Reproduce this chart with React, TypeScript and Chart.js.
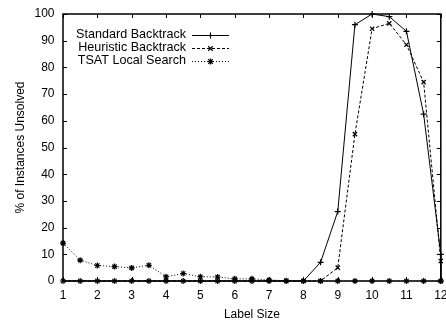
import React, { useEffect, useRef } from 'react';
import { Chart, registerables } from 'chart.js';

Chart.register(...registerables);

const labelSizes = [1, 1.5, 2, 2.5, 3, 3.5, 4, 4.5, 5, 5.5, 6, 6.5, 7, 7.5, 8, 8.5, 9, 9.5, 10, 10.5, 11, 11.5, 12];
const standardBacktrack = [0, 0, 0, 0, 0, 0, 0, 0, 0, 0, 0, 0, 0, 0, 0, 7, 26, 96, 100, 99, 93.5, 62.5, 10];
const heuristicBacktrack = [0, 0, 0, 0, 0, 0, 0, 0, 0, 0, 0, 0, 0, 0, 0, 0, 5, 55, 94.5, 96.5, 88.5, 74.5, 7.5];
const tsatLocalSearch = [14.2, 7.8, 5.8, 5.4, 4.9, 5.9, 1.6, 2.8, 1.6, 1.5, 0.8, 0.8, 0.4, 0.1, 0, 0, 0, 0, 0, 0, 0, 0, 0];
// final drop of the backtrack curves at label size 12
const finalDrop = { x: 12, y: 0 };

const seriesNames = ['Standard Backtrack', 'Heuristic Backtrack', 'TSAT Local Search'];
const xTicks = [1, 2, 3, 4, 5, 6, 7, 8, 9, 10, 11, 12];
const yTicks = [0, 10, 20, 30, 40, 50, 60, 70, 80, 90, 100];

const FONT = '"Liberation Sans", Arial, Helvetica, sans-serif';

const styles = [
  { dash: [] as number[], pointStyle: 'cross', radius: 3 },
  { dash: [3, 2], pointStyle: 'crossRot', radius: 3 },
  { dash: [1, 2], pointStyle: 'star', radius: 3 },
];

function drawMarker(ctx: CanvasRenderingContext2D, style: string, x: number, y: number, r: number) {
  ctx.save();
  ctx.setLineDash([]);
  ctx.lineWidth = 1.2;
  ctx.strokeStyle = '#000';
  ctx.beginPath();
  if (style === 'cross' || style === 'star') {
    ctx.moveTo(x - r, y); ctx.lineTo(x + r, y);
    ctx.moveTo(x, y - r); ctx.lineTo(x, y + r);
  }
  if (style === 'crossRot' || style === 'star') {
    const d = r * 0.75;
    ctx.moveTo(x - d, y - d); ctx.lineTo(x + d, y + d);
    ctx.moveTo(x - d, y + d); ctx.lineTo(x + d, y - d);
  }
  ctx.stroke();
  ctx.restore();
}

const framePlugin = {
  id: 'frame',
  afterDraw(chart: any) {
    const { ctx, chartArea: a, scales } = chart;
    ctx.save();
    ctx.strokeStyle = '#000';
    ctx.lineWidth = 1.5;
    ctx.setLineDash([]);
    ctx.strokeRect(a.left, a.top, a.right - a.left, a.bottom - a.top);
    ctx.lineWidth = 1;
    const tl = 4;
    ctx.beginPath();
    xTicks.forEach((v) => {
      const px = Math.round(scales.x.getPixelForValue(v)) + 0.5;
      ctx.moveTo(px, a.bottom); ctx.lineTo(px, a.bottom - tl);
      ctx.moveTo(px, a.top); ctx.lineTo(px, a.top + tl);
    });
    yTicks.forEach((v) => {
      const py = Math.round(scales.y.getPixelForValue(v)) + 0.5;
      ctx.moveTo(a.left, py); ctx.lineTo(a.left + tl, py);
      ctx.moveTo(a.right, py); ctx.lineTo(a.right - tl, py);
    });
    ctx.stroke();

    // legend
    ctx.font = `12.6px ${FONT}`;
    ctx.fillStyle = '#000';
    ctx.textAlign = 'right';
    ctx.textBaseline = 'middle';
    const rowYs = [34.5, 47.8, 61];
    seriesNames.forEach((name, i) => {
      const y = rowYs[i];
      ctx.fillText(name, 186, y);
      ctx.save();
      ctx.lineWidth = 1;
      ctx.setLineDash(styles[i].dash);
      ctx.beginPath();
      ctx.moveTo(192, Math.round(y) + 0.5);
      ctx.lineTo(229, Math.round(y) + 0.5);
      ctx.stroke();
      ctx.restore();
      drawMarker(ctx, styles[i].pointStyle, 210.5, Math.round(y) + 0.5, styles[i].radius);
    });
    ctx.restore();
  },
};

export default function App() {
  const ref = useRef<HTMLCanvasElement | null>(null);
  useEffect(() => {
    if (!ref.current) return;
    const toPts = (arr: number[]) => labelSizes.map((x, i) => ({ x, y: arr[i] }));
    const seriesData = [
      [...toPts(standardBacktrack), finalDrop],
      [...toPts(heuristicBacktrack), finalDrop],
      toPts(tsatLocalSearch),
    ];
    const chart = new Chart(ref.current, {
      type: 'line',
      data: {
        datasets: seriesNames.map((name, i) => ({
          label: name,
          data: seriesData[i],
          borderColor: '#000',
          backgroundColor: '#000',
          borderWidth: 1,
          borderDash: styles[i].dash,
          pointStyle: styles[i].pointStyle as any,
          pointRadius: styles[i].radius,
          pointBorderWidth: 1.2,
          pointBorderColor: '#000',
          tension: 0,
          clip: false as any,
        })),
      },
      options: {
        responsive: false,
        animation: false,
        events: [],
        layout: { padding: { left: 0, right: 3, top: 14, bottom: 0 } },
        plugins: { legend: { display: false }, tooltip: { enabled: false } },
        scales: {
          x: {
            type: 'linear',
            min: 1,
            max: 12,
            grid: { display: false, drawTicks: false },
            border: { display: false },
            ticks: { stepSize: 1, padding: 7, color: '#000', font: { family: FONT, size: 12 }, maxRotation: 0 },
            title: { display: true, text: 'Label Size', color: '#000', font: { family: FONT, size: 12 }, padding: { top: 0, bottom: 0.5 } },
            afterFit: (s: any) => { s.height = 41; s.paddingLeft = 0; s.paddingRight = 0; },
          },
          y: {
            type: 'linear',
            min: 0,
            max: 100,
            grid: { display: false, drawTicks: false },
            border: { display: false },
            ticks: { stepSize: 10, padding: 8.5, color: '#000', font: { family: FONT, size: 12 } },
            title: { display: true, text: '% of Instances Unsolved', color: '#000', font: { family: FONT, size: 12 }, padding: { top: 13, bottom: 0 } },
            afterFit: (s: any) => { s.width = 63; s.paddingTop = 0; s.paddingBottom = 0; },
          },
        },
      },
      plugins: [framePlugin],
    });
    return () => chart.destroy();
  }, []);
  return (
    <div style={{ position: 'absolute', left: 0, top: 0, width: 446, height: 322, background: '#fff' }}>
      <canvas ref={ref} width={446} height={322} style={{ display: 'block' }} />
    </div>
  );
}
